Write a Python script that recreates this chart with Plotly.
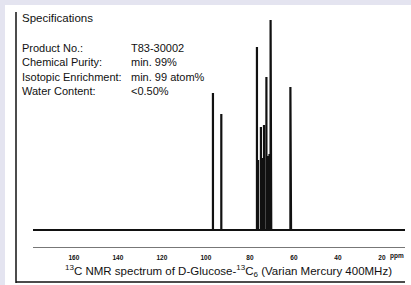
import plotly.graph_objects as go

# ---- data ----
peak_ppm = [96.8, 93.0, 76.8, 76.3, 75.0, 74.2, 73.6, 72.5, 72.1, 71.7, 71.1, 70.6, 70.3, 61.6, 61.3]
peak_int = [137, 116, 183, 70, 103, 72, 105, 153, 74, 68, 76, 210, 193, 143, 60]
ppm_start, ppm_end = 178.6, 9.5
tick_vals = [160, 140, 120, 100, 80, 60, 40, 20]
tick_text = [str(v) for v in tick_vals]
spec_labels = ["Product No.:", "Chemical Purity:", "Isotopic Enrichment:", "Water Content:"]
spec_values = ["T83-30002", "min. 99%", "min. 99 atom%", "<0.50%"]

# stick spectrum built from the peak list
xs, ys = [ppm_start], [0]
for p, h in sorted(zip(peak_ppm, peak_int), key=lambda t: -t[0]):
    xs += [p, p, p]
    ys += [0, h, 0]
xs.append(ppm_end)
ys.append(0)

W, H = 411, 285
L, R, T, B = 33, 6, 10, 38
PW, PH = W - L - R, H - T - B


def px(x):
    return (x - L) / PW


def py(y):
    return (H - B - y) / PH


FONT = "Liberation Sans, Arial"

fig = go.Figure()
fig.add_trace(go.Scatter(x=xs, y=ys, mode="lines",
                         line=dict(color="#111111", width=2.2),
                         hoverinfo="skip", showlegend=False))

shapes = [
    dict(type="rect", xref="paper", yref="paper", x0=px(5), x1=px(412), y0=py(286), y1=py(5),
         fillcolor="white", line=dict(width=0), layer="below"),
    dict(type="line", xref="paper", yref="paper", x0=px(16), x1=px(16), y0=py(283), y1=py(12),
         line=dict(color="#111111", width=1.5)),
    dict(type="line", xref="paper", yref="paper", x0=px(16), x1=px(405), y0=py(282), y1=py(282),
         line=dict(color="#111111", width=1.5)),
]

annotations = [
    dict(text="Specifications", xref="paper", yref="paper", x=px(20), y=py(18),
         xanchor="left", yanchor="middle", showarrow=False,
         font=dict(family=FONT, size=11.5, color="#111")),
]
row_y = [48, 62, 77, 91]
for lab, val, yy in zip(spec_labels, spec_values, row_y):
    annotations.append(dict(text=lab, xref="paper", yref="paper", x=px(20), y=py(yy),
                            xanchor="left", yanchor="middle", showarrow=False,
                            font=dict(family=FONT, size=11, color="#111")))
    annotations.append(dict(text=val, xref="paper", yref="paper", x=px(129), y=py(yy),
                            xanchor="left", yanchor="middle", showarrow=False,
                            font=dict(family=FONT, size=11, color="#111")))
annotations.append(dict(text="<b>ppm</b>", xref="x", yref="paper", x=13, y=py(256),
                        xanchor="center", yanchor="middle", showarrow=False,
                        font=dict(family=FONT, size=6.5, color="#111")))
annotations.append(dict(text="<sup>13</sup>C NMR spectrum of D-Glucose-<sup>13</sup>C<sub>6</sub> (Varian Mercury 400MHz)",
                        xref="paper", yref="paper", x=px(228), y=py(271),
                        xanchor="center", yanchor="middle", showarrow=False,
                        font=dict(family=FONT, size=11.5, color="#111")))

fig.update_layout(
    width=W, height=H,
    margin=dict(l=L, r=R, t=T, b=B, pad=0),
    paper_bgcolor="#e4e4f0", plot_bgcolor="white",
    shapes=shapes, annotations=annotations,
    xaxis=dict(range=[ppm_start, ppm_end], tickvals=tick_vals, ticktext=["<b>%s</b>" % t for t in tick_text],
               showgrid=False, zeroline=False, showline=True, linecolor="#777777", linewidth=1,
               ticks="outside", ticklen=4, tickcolor="rgba(0,0,0,0)",
               tickfont=dict(family=FONT, size=6.5, color="#111"),
               fixedrange=True),
    yaxis=dict(range=[-17, 220], visible=False, showgrid=False, zeroline=False, fixedrange=True),
)

fig.write_html("out.html", config={"displayModeBar": False},
               post_script="document.body.style.margin='0';document.body.style.padding='0';")
